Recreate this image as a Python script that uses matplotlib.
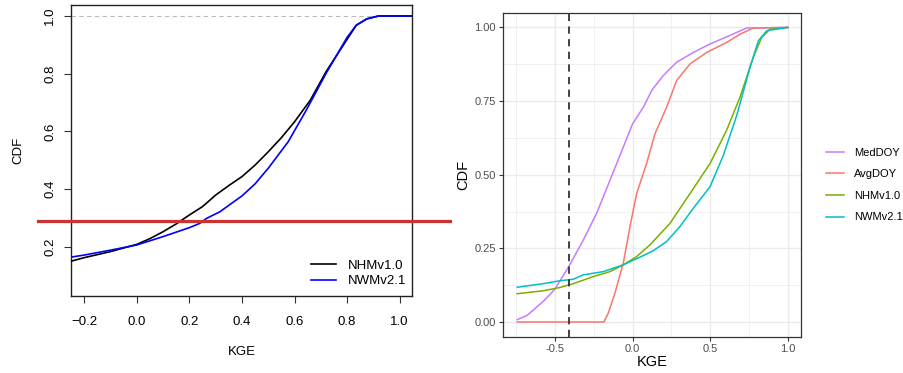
import matplotlib
matplotlib.use("Agg")
import matplotlib.pyplot as plt
from matplotlib.lines import Line2D
from matplotlib.transforms import blended_transform_factory
import numpy as np

plt.rcParams['font.family'] = ['Liberation Sans', 'DejaVu Sans']

# ---- Left panel data (KGE vs CDF) ----
nhm_left_x = [-0.249, -0.2, -0.1, 0.0, 0.05, 0.1, 0.15, 0.2, 0.25, 0.3, 0.35, 0.4, 0.45, 0.5, 0.55, 0.6, 0.66, 0.72, 0.8, 0.835, 0.875, 0.92, 1.05]
nhm_left_y = [0.150, 0.162, 0.183, 0.208, 0.228, 0.252, 0.279, 0.310, 0.339, 0.379, 0.412, 0.443, 0.483, 0.529, 0.578, 0.633, 0.708, 0.807, 0.919, 0.968, 0.990, 1.0, 1.0]
nwm_left_x = [-0.249, -0.2, -0.1, 0.0, 0.1, 0.2, 0.24, 0.265, 0.316, 0.36, 0.4, 0.45, 0.5, 0.576, 0.645, 0.72, 0.8, 0.835, 0.875, 0.92, 1.05]
nwm_left_y = [0.164, 0.171, 0.188, 0.206, 0.235, 0.266, 0.281, 0.298, 0.321, 0.350, 0.376, 0.418, 0.472, 0.564, 0.674, 0.801, 0.926, 0.968, 0.990, 1.0, 1.0]
left_labels = ["NHMv1.0", "NWMv2.1"]
threshold_cdf = 0.29

# ---- Right panel data ----
med_x = [-0.744, -0.684, -0.576, -0.5, -0.41, -0.318, -0.232, -0.146, -0.06, 0.0, 0.069, 0.123, 0.198, 0.284, 0.391, 0.499, 0.606, 0.735, 1.0]
med_y = [0.008, 0.021, 0.070, 0.112, 0.190, 0.278, 0.369, 0.481, 0.594, 0.673, 0.729, 0.786, 0.837, 0.882, 0.915, 0.944, 0.968, 0.998, 1.0]
avg_x = [-0.744, -0.185, -0.157, -0.114, -0.06, -0.017, 0.026, 0.09, 0.144, 0.219, 0.284, 0.37, 0.477, 0.606, 0.692, 0.778, 1.0]
avg_y = [0.0, 0.0, 0.030, 0.098, 0.200, 0.324, 0.436, 0.538, 0.639, 0.729, 0.820, 0.876, 0.915, 0.949, 0.977, 0.998, 1.0]
nhm_x = [-0.744, -0.576, -0.469, -0.383, -0.254, -0.146, -0.06, 0.026, 0.112, 0.241, 0.37, 0.499, 0.606, 0.692, 0.778, 0.832, 0.886, 1.0]
nhm_y = [0.096, 0.106, 0.117, 0.130, 0.154, 0.171, 0.194, 0.222, 0.262, 0.335, 0.436, 0.538, 0.651, 0.763, 0.899, 0.966, 0.994, 1.0]
nwm_x = [-0.744, -0.576, -0.469, -0.383, -0.318, -0.189, -0.06, 0.047, 0.133, 0.219, 0.305, 0.391, 0.499, 0.585, 0.671, 0.757, 0.811, 0.865, 1.0]
nwm_y = [0.118, 0.130, 0.140, 0.145, 0.160, 0.171, 0.194, 0.220, 0.242, 0.273, 0.324, 0.386, 0.459, 0.566, 0.701, 0.865, 0.955, 0.989, 1.0]
right_labels = ["MedDOY", "AvgDOY", "NHMv1.0", "NWMv2.1"]
right_colors = ["#C77CFF", "#F8766D", "#7CAE00", "#00BFC4"]
vline_kge = -0.41

fig = plt.figure(figsize=(9.04, 3.73), dpi=100)

# ---------- Left panel (base R style) ----------
ax1 = fig.add_axes([0.0789, 0.2064, 0.3772, 0.7794])
ax1.axhline(1.0, color="#BBBBBB", lw=0.8, ls=(0, (4, 3)), zorder=1)
ax1.plot(nhm_left_x, nhm_left_y, color="black", lw=1.2, label=left_labels[0], zorder=3)
ax1.plot(nwm_left_x, nwm_left_y, color="blue", lw=1.2, label=left_labels[1], zorder=4)
ax1.set_xlim(-0.249, 1.048)
ax1.set_ylim(0.029, 1.037)
ax1.set_xticks([-0.2, 0.0, 0.2, 0.4, 0.6, 0.8, 1.0])
ax1.set_xticklabels(["\u22120.2", "0.0", "0.2", "0.4", "0.6", "0.8", "1.0"])
ax1.set_yticks([0.2, 0.4, 0.6, 0.8, 1.0])
ax1.set_yticklabels(["0.2", "0.4", "0.6", "0.8", "1.0"], rotation=90, va="center")
ax1.tick_params(axis="both", labelsize=9.5, length=5, width=0.8, color="#333333")
ax1.tick_params(axis="x", pad=9.5)
ax1.tick_params(axis="y", pad=6)
for s in ax1.spines.values():
    s.set_linewidth(1.0)
    s.set_color("#222222")
ax1.set_xlabel("KGE", fontsize=9.5, labelpad=13)
ax1.set_ylabel("CDF", fontsize=9.5, labelpad=14)
leg1 = ax1.legend(loc="lower right", bbox_to_anchor=(0.997, 0.012), frameon=False, fontsize=9.5,
                  handlelength=1.9, handletextpad=0.9, labelspacing=0.25, borderaxespad=0.0)

# red horizontal line spanning beyond the axes
trans = blended_transform_factory(fig.transFigure, ax1.transData)
fig.add_artist(Line2D([38 / 904, 450 / 904], [threshold_cdf, threshold_cdf], transform=trans,
                      color="#CC3333", lw=2.3, zorder=10))

# ---------- Right panel (ggplot theme_bw style) ----------
ax2 = fig.add_axes([0.5561, 0.0973, 0.3303, 0.8686])
ax2.set_xlim(-0.8375, 1.0875)
ax2.set_ylim(-0.05, 1.05)
ax2.set_xticks([-0.5, 0.0, 0.5, 1.0])
ax2.set_xticklabels(["-0.5", "0.0", "0.5", "1.0"])
ax2.set_yticks([0.0, 0.25, 0.5, 0.75, 1.0])
ax2.set_yticklabels(["0.00", "0.25", "0.50", "0.75", "1.00"])
ax2.set_xticks([-0.75, -0.25, 0.25, 0.75], minor=True)
ax2.set_yticks([0.125, 0.375, 0.625, 0.875], minor=True)
ax2.grid(which="major", color="#EBEBEB", lw=1.0)
ax2.grid(which="minor", color="#EBEBEB", lw=0.5)
ax2.tick_params(which="minor", length=0)
ax2.tick_params(which="major", labelsize=8, labelcolor="#4D4D4D", color="#333333", length=3, width=0.8, pad=2)
ax2.set_axisbelow(True)
for s in ax2.spines.values():
    s.set_linewidth(0.9)
    s.set_color("#333333")

series = [(med_x, med_y), (avg_x, avg_y), (nhm_x, nhm_y), (nwm_x, nwm_y)]
for (xs, ys), lab, col in zip(series, right_labels, right_colors):
    ax2.plot(xs, ys, color=col, lw=1.1, label=lab)
ax2.axvline(vline_kge, color="#333333", lw=1.3, ls=(0, (4, 3)))
ax2.set_xlabel("KGE", fontsize=10.5, labelpad=1)
ax2.set_ylabel("CDF", fontsize=10.5, labelpad=3)
legend_x = 822 / 904
legend_y = 1 - 185 / 373
ax2.legend(loc="center left", bbox_to_anchor=(legend_x, legend_y), bbox_transform=fig.transFigure,
           frameon=False, fontsize=8, handlelength=1.6, handletextpad=0.9, labelspacing=1.05,
           borderaxespad=0.0)

fig.savefig("out.png", dpi=100)
